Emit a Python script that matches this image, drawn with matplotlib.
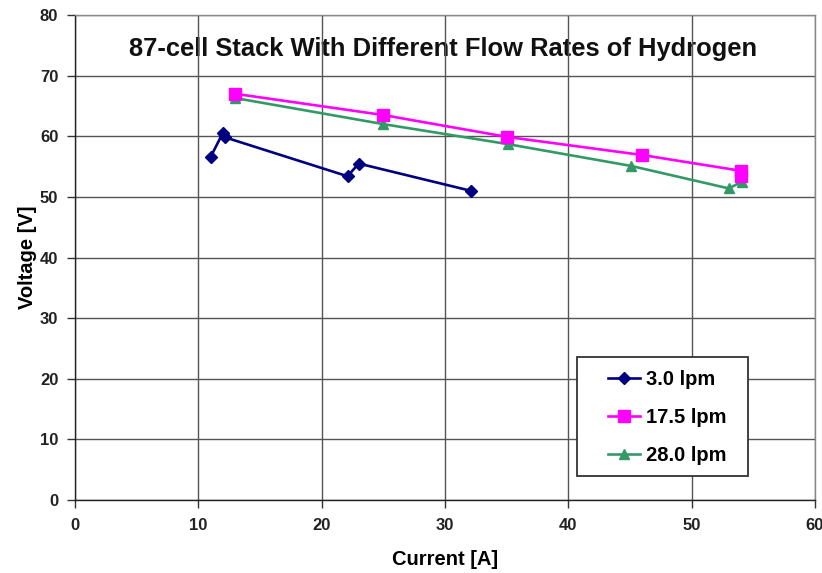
import matplotlib
matplotlib.use("Agg")
import matplotlib.pyplot as plt
from matplotlib.patches import Rectangle

plt.rcParams['font.family'] = ['Liberation Sans', 'DejaVu Sans']

# Stack polarization data: current [A] vs. voltage [V]
current_3_0 = [11.0, 12.0, 12.2, 22.1, 23.0, 32.1]
voltage_3_0 = [56.6, 60.6, 59.8, 53.4, 55.5, 51.0]

current_17_5 = [13.0, 25.0, 35.0, 46.0, 54.0, 54.0]
voltage_17_5 = [67.0, 63.5, 59.9, 56.9, 54.3, 53.4]

current_28_0 = [13.0, 25.0, 35.1, 45.1, 53.0, 54.1]
voltage_28_0 = [66.3, 62.0, 58.7, 55.1, 51.4, 52.5]

labels = ["3.0 lpm", "17.5 lpm", "28.0 lpm"]
title = "87-cell Stack With Different Flow Rates of Hydrogen"
x_ticks = [0, 10, 20, 30, 40, 50, 60]
y_ticks = [0, 10, 20, 30, 40, 50, 60, 70, 80]

fig = plt.figure(figsize=(8.22, 5.73), dpi=100)
ax = fig.add_axes([75 / 822, 73 / 573, 740 / 822, 485 / 573])

ax.plot(current_3_0, voltage_3_0, color="#000080", marker="D", markersize=6.5,
        linewidth=1.9, label=labels[0], zorder=4)
ax.plot(current_17_5, voltage_17_5, color="#FF00FF", marker="s", markersize=8,
        linewidth=1.9, label=labels[1], zorder=4)
ax.plot(current_28_0, voltage_28_0, color="#339966", marker="^", markersize=7.5,
        linewidth=1.9, label=labels[2], zorder=3)

ax.set_xlim(0, 60)
ax.set_ylim(0, 80)
ax.set_xticks(x_ticks)
ax.set_yticks(y_ticks)
ax.grid(True, color="#555555", linewidth=1.0)
ax.set_axisbelow(True)

for s in ax.spines.values():
    s.set_color("#888888")
    s.set_linewidth(1.0)
ax.spines['left'].set_color("#222222")
ax.spines['bottom'].set_color("#222222")

ax.tick_params(axis="both", direction="out", length=6, width=1.0,
               color="#333333", labelsize=12, labelcolor="#222222")
for lab in ax.get_xticklabels() + ax.get_yticklabels():
    lab.set_fontweight("bold")
ax.tick_params(axis="x", pad=7)
ax.tick_params(axis="y", pad=6)

ax.set_xlabel("Current [A]", fontsize=14.5, fontweight="bold", labelpad=12)
ax.set_ylabel("Voltage [V]", fontsize=14.5, fontweight="bold", labelpad=2)

ax.text(0.497, 0.93, title, transform=ax.transAxes, ha="center", va="center",
        fontsize=18.4, fontweight="bold", color="#111111", zorder=0.3)

# Legend box drawn separately so its margins can be set freely
ax.add_patch(Rectangle((502 / 740, 24 / 485), 171 / 740, 119 / 485,
                       transform=ax.transAxes, facecolor="white",
                       edgecolor="#333333", linewidth=1.3, zorder=5))
leg = ax.legend(loc="center", bbox_to_anchor=(592 / 740, 82.5 / 485),
                prop={"weight": "bold", "size": 14.5},
                frameon=False, labelspacing=0.95, handlelength=1.6,
                handletextpad=0.3, borderaxespad=0.0, borderpad=0.0)
leg.set_zorder(6)

fig.savefig("out.png", dpi=100, facecolor="white")
